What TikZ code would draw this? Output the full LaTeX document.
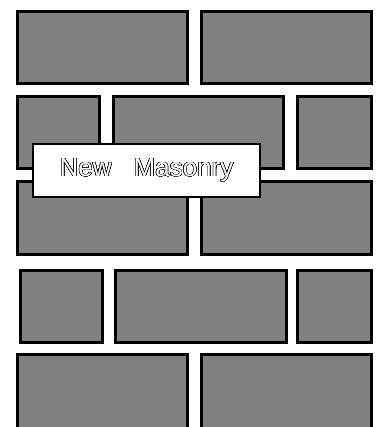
\documentclass[tikz,border=0pt]{standalone}
\usepackage{fontspec}
\setmainfont{Liberation Sans}
\usepackage[copies]{contour}
\usetikzlibrary{positioning}
\contourlength{0.45pt}
\contournumber{24}

\begin{document}
\begin{tikzpicture}[x=1pt, y=-1pt,
        brick/.style={draw=black, fill=gray, line width=3pt, inner sep=0pt,
                      minimum height=72pt},
        longbrick/.style={brick, minimum width=170pt},
        shortbrick/.style={brick, minimum width=82pt},
        endbrick/.style={brick, minimum width=74pt},
        label/.style={draw=black, fill=white, line width=2pt, inner sep=0pt,
                      minimum width=227pt, minimum height=53pt,
                      font=\fontsize{26}{29}\selectfont},
    ]
        \useasboundingbox (0,0) rectangle (375,427);
        % row 1
        \node[longbrick]  (ra1) at (102.5, 47.5)  {};
        \node[longbrick]  (ra2) at (286.5, 47.5)  {};
        % row 2
        \node[shortbrick] (rb1) at (58.5, 132.5)  {};
        \node[longbrick]  (rb2) at (198.5, 132.5) {};
        \node[endbrick]   (rb3) at (334.5, 132.5) {};
        % row 3
        \node[longbrick]  (rc1) at (102.5, 218)   {};
        \node[longbrick]  (rc2) at (286.5, 218)   {};
        % row 4
        \node[shortbrick] (rd1) at (61, 306.5)    {};
        \node[longbrick, minimum width=171pt] (rd2) at (201, 306.5) {};
        \node[endbrick]   (rd3) at (334.5, 306.5) {};
        % row 5 (runs off the bottom)
        \node[longbrick, minimum height=80pt] (re1) at (102.5, 394.5) {};
        \node[longbrick, minimum height=80pt] (re2) at (286.5, 394.5) {};

        \node[label] (title) at (146.5, 170.5)
            {\contour{black}{\textcolor{white}{New}}\hspace{22pt}\contour{black}{\textcolor{white}{Masonry}}};
    \end{tikzpicture}
\end{document}
